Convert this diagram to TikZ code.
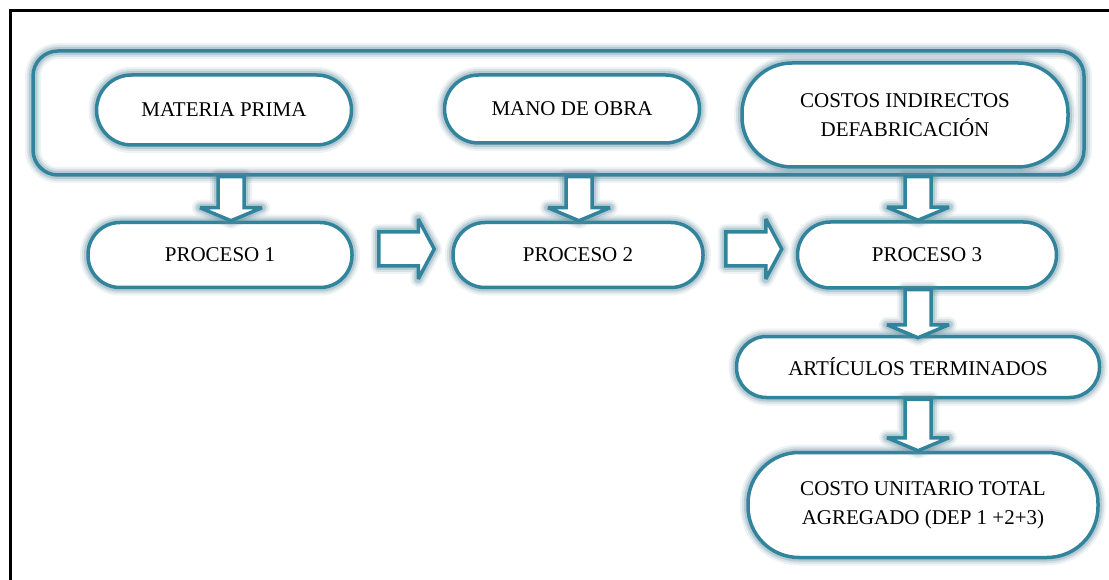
\documentclass[tikz,border=0pt]{standalone}
\usepackage{fontspec}
\setmainfont{Liberation Serif}
\usetikzlibrary{calc}
\definecolor{tealline}{RGB}{49,132,155}
\definecolor{glowc}{RGB}{95,140,158}
\tikzset{
  glow/.style={
    preaction={draw=glowc, line width=16pt, opacity=0.10, line join=round},
    preaction={draw=glowc, line width=12pt, opacity=0.16, line join=round},
    preaction={draw=glowc, line width=8pt, opacity=0.28, line join=round}},
  pill/.style={glow, draw=tealline, line width=3.5pt, fill=white,
    inner sep=0pt, align=center, font=\fontsize{21}{29}\selectfont},
  groupbox/.style={glow, draw=tealline, line width=3.5pt, inner sep=0pt},
  blockarrow/.style={glow, draw=tealline, line width=3.5pt, fill=white,
    line join=miter, miter limit=4}
}
% vertical block arrow at x=#1 (pt), from anchor #2 down to anchor #3
\newcommand\blockdown[3]{%
  \draw[blockarrow] let \p1=(#2), \p2=(#3) in
    ({#1pt-13pt},\y1) -- ({#1pt-13pt},\y2+13pt) -- ({#1pt-31pt},\y2+13pt)
    -- ({#1pt},\y2) -- ({#1pt+31pt},\y2+13pt) -- ({#1pt+13pt},\y2+13pt)
    -- ({#1pt+13pt},\y1) -- cycle;}
% horizontal block arrow from point #1 to point #2 (same height)
\newcommand\blockright[2]{%
  \draw[blockarrow] let \p1=(#1), \p2=(#2) in
    (\x1,\y1+17pt) -- (\x2-16pt,\y1+17pt) -- (\x2-16pt,\y1+30pt)
    -- (\x2,\y1) -- (\x2-16pt,\y1-30pt) -- (\x2-16pt,\y1-17pt)
    -- (\x1,\y1-17pt) -- cycle;}
\begin{document}
\begin{tikzpicture}[x=1pt,y=-1pt]
\useasboundingbox (0,0) rectangle (1109,580);
\fill[white] (0,0) rectangle (1109,580);
% page frame
\draw[line width=3pt] (10.5,580) -- (10.5,10.5) -- (1109,10.5);

% grouping box of the three cost elements
\node[groupbox, minimum width=1051pt, minimum height=124pt, rounded corners=25pt]
  (grp) at (558.5,113) {};

% cost elements
\node[pill, minimum width=255pt, minimum height=70pt, rounded corners=35pt]
  (mp) at (224,110) {MATERIA PRIMA};
\node[pill, minimum width=255pt, minimum height=68pt, rounded corners=34pt]
  (mo) at (572,109) {MANO DE OBRA};
\node[pill, minimum width=326pt, minimum height=104pt, rounded corners=50pt]
  (cif) at (905,115) {COSTOS INDIRECTOS\\DEFABRICACIÓN};

% processes
\node[pill, minimum width=264pt, minimum height=65pt, rounded corners=32pt]
  (p1) at (220,255) {PROCESO 1};
\node[pill, minimum width=250pt, minimum height=65pt, rounded corners=32pt]
  (p2) at (578,255) {PROCESO 2};
\node[pill, minimum width=259pt, minimum height=66pt, rounded corners=33pt]
  (p3) at (927,255) {PROCESO 3};

% results
\node[pill, minimum width=363pt, minimum height=61pt, rounded corners=30pt]
  (art) at (918,367) {ARTÍCULOS TERMINADOS};
\node[pill, minimum width=350pt, minimum height=105pt, rounded corners=51pt]
  (cu) at (923,505) {COSTO UNITARIO TOTAL\\AGREGADO (DEP 1 +2+3)};

% block arrows
\blockdown{231}{grp.south -| mp.south}{p1.north}
\blockdown{579}{grp.south -| mo.south}{p2.north}
\blockdown{918}{grp.south -| cif.south}{p3.north}
\blockdown{918}{p3.south}{$(art.north)+(0,3)$}
\blockdown{918}{art.south}{cu.north}
\blockright{$(p1.east)+(25,-6)$}{$(p2.west)+(-17,-6)$}
\blockright{$(p2.east)+(21,-6)$}{$(p3.west)+(-14,-6)$}
\end{tikzpicture}
\end{document}
